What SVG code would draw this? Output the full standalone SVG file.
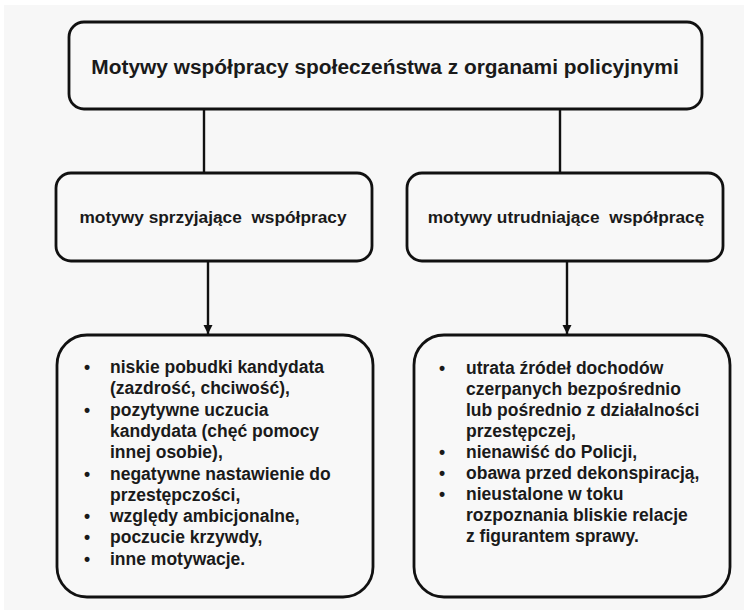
<svg xmlns="http://www.w3.org/2000/svg" width="744" height="610" viewBox="0 0 744 610">
<defs>
<style>
.box{fill:#f8f8f8;stroke:#111;stroke-width:2.8}
.conn{stroke:#111;stroke-width:2.4;fill:none}
.t{font-family:"Liberation Sans",Arial,sans-serif;font-weight:bold;fill:#1a1a1a}
.title{font-size:20.9px}
.mid{font-size:17.3px;white-space:pre}
.list{font-size:17.5px}
</style>
<marker id="arr" markerUnits="userSpaceOnUse" markerWidth="11" markerHeight="11" refX="9" refY="5.5" orient="auto">
<path d="M0,1 L9,5.5 L0,10 z" fill="#111"/>
</marker>
</defs>
<rect x="0" y="0" width="744" height="610" fill="#ffffff"/>
<rect x="4" y="5" width="740" height="605" fill="#f7f7f7"/>
<g id="connectors">
<line class="conn" x1="204" y1="109" x2="204" y2="173"/>
<line class="conn" x1="560" y1="109" x2="560" y2="173"/>
<line class="conn" x1="208" y1="261" x2="208" y2="334" marker-end="url(#arr)"/>
<line class="conn" x1="567" y1="261" x2="567" y2="334" marker-end="url(#arr)"/>
</g>
<g id="root">
<rect class="box" x="69" y="22" width="633" height="87" rx="15"/>
<text class="t title" x="385" y="74" text-anchor="middle">Motywy współpracy społeczeństwa z organami policyjnymi</text>
</g>
<g id="favor">
<rect class="box" x="56" y="173" width="316" height="88" rx="15"/>
<text class="t mid" x="213" y="223" text-anchor="middle">motywy sprzyjające  współpracy</text>
</g>
<g id="hinder">
<rect class="box" x="407" y="173" width="316" height="88" rx="15"/>
<text class="t mid" x="566" y="223" text-anchor="middle">motywy utrudniające  współpracę</text>
</g>
<g id="favor-list">
<rect class="box" x="57" y="335" width="316" height="262" rx="30"/>
<g class="t list">
<text x="87" y="373" text-anchor="middle">•</text>
<text x="110" y="373">niskie pobudki kandydata</text>
<text x="110" y="394.3">(zazdrość, chciwość),</text>
<text x="87" y="415.6" text-anchor="middle">•</text>
<text x="110" y="415.6">pozytywne uczucia</text>
<text x="110" y="436.9">kandydata (chęć pomocy</text>
<text x="110" y="458.2">innej osobie),</text>
<text x="87" y="479.5" text-anchor="middle">•</text>
<text x="110" y="479.5">negatywne nastawienie do</text>
<text x="110" y="500.8">przestępczości,</text>
<text x="87" y="522.1" text-anchor="middle">•</text>
<text x="110" y="522.1">względy ambicjonalne,</text>
<text x="87" y="543.4" text-anchor="middle">•</text>
<text x="110" y="543.4">poczucie krzywdy,</text>
<text x="87" y="564.7" text-anchor="middle">•</text>
<text x="110" y="564.7">inne motywacje.</text>
</g>
</g>
<g id="hinder-list">
<rect class="box" x="414" y="335" width="316" height="262" rx="30"/>
<g class="t list">
<text x="442" y="374" text-anchor="middle">•</text>
<text x="466" y="374">utrata źródeł dochodów</text>
<text x="466" y="395">czerpanych bezpośrednio</text>
<text x="466" y="416">lub pośrednio z działalności</text>
<text x="466" y="437">przestępczej,</text>
<text x="442" y="458" text-anchor="middle">•</text>
<text x="466" y="458">nienawiść do Policji,</text>
<text x="442" y="479" text-anchor="middle">•</text>
<text x="466" y="479">obawa przed dekonspiracją,</text>
<text x="442" y="500" text-anchor="middle">•</text>
<text x="466" y="500">nieustalone w toku</text>
<text x="466" y="521">rozpoznania bliskie relacje</text>
<text x="466" y="542">z figurantem sprawy.</text>
</g>
</g>
</svg>
